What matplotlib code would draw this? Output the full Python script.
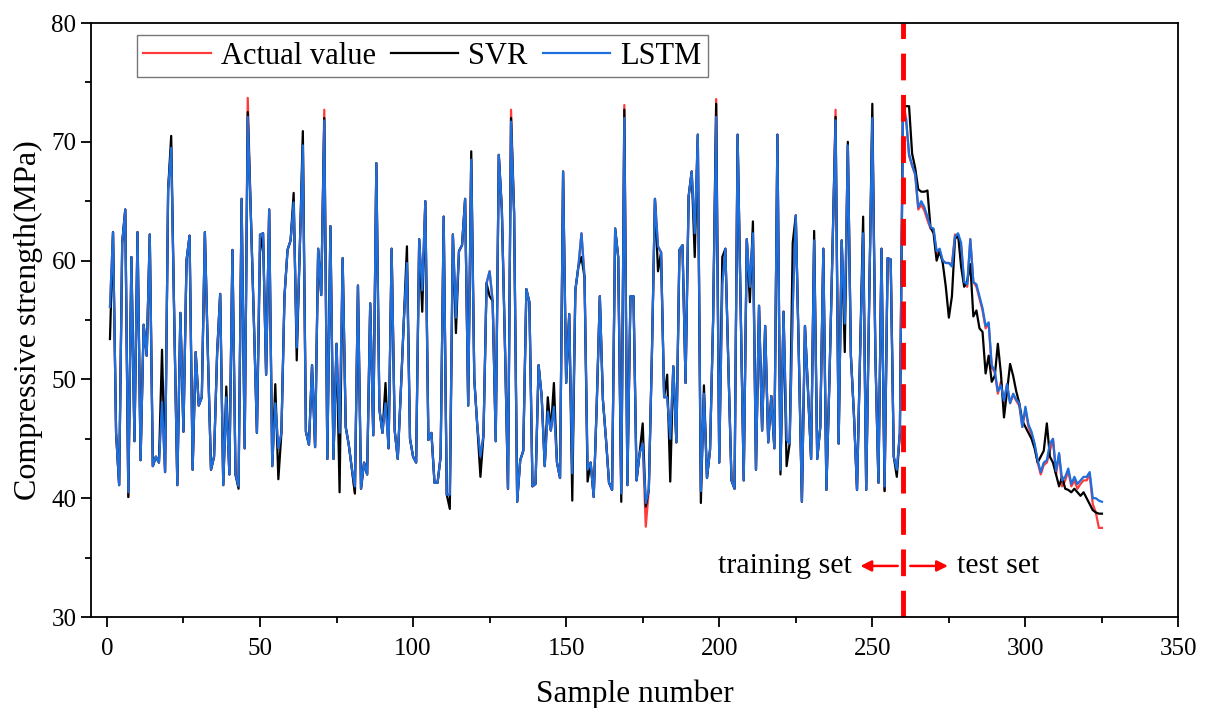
import matplotlib
matplotlib.use("Agg")
import matplotlib.pyplot as plt
import numpy as np

plt.rcParams['font.family'] = ['Liberation Serif', 'DejaVu Serif']
plt.rcParams['mathtext.fontset'] = 'stix'

# training set (samples 1-260), actual values
actual_train = [
    56.1, 62.4, 45.5, 41.1, 61.5, 64.3, 40.1, 60.3, 44.8, 62.4,
    43.2, 54.6, 52.0, 62.2, 42.7, 43.5, 43.0, 48.1, 42.2, 66.0,
    69.6, 55.0, 41.1, 55.6, 45.6, 60.0, 62.1, 42.4, 52.3, 47.8,
    48.5, 62.4, 52.0, 42.4, 43.5, 52.2, 57.2, 41.1, 48.5, 42.0,
    60.9, 42.0, 41.0, 65.2, 44.2, 73.7, 64.0, 55.0, 45.5, 62.2,
    62.3, 50.4, 64.3, 42.7, 48.0, 44.2, 45.5, 57.0, 60.9, 61.7,
    64.9, 52.7, 61.0, 69.8, 45.6, 44.5, 51.2, 44.3, 61.0, 57.1,
    72.7, 43.3, 62.9, 43.3, 53.0, 45.5, 60.2, 46.0, 44.5, 42.5,
    40.4, 57.9, 40.8, 43.0, 42.0, 56.4, 45.3, 68.2, 47.5, 45.5,
    48.0, 44.2, 61.0, 45.7, 43.3, 49.0, 55.0, 59.8, 45.0, 43.5,
    43.0, 61.8, 57.5, 65.0, 44.9, 45.5, 41.3, 41.3, 43.5, 63.7,
    40.3, 40.3, 62.2, 55.2, 60.8, 61.3, 65.2, 47.8, 68.5, 50.0,
    46.0, 43.5, 45.3, 58.1, 59.1, 56.6, 44.8, 68.9, 64.3, 53.0,
    40.8, 72.7, 64.0, 39.7, 43.2, 44.0, 57.6, 56.5, 41.0, 41.2,
    51.2, 48.6, 42.7, 47.3, 45.7, 47.7, 43.0, 41.7, 67.5, 49.7,
    55.5, 42.1, 57.5, 59.5, 62.3, 58.6, 42.4, 43.0, 40.1, 48.0,
    57.0, 48.3, 45.0, 41.3, 40.7, 62.7, 60.3, 40.4, 73.1, 41.1,
    57.0, 57.0, 41.5, 43.8, 44.6, 37.6, 40.7, 52.0, 65.2, 61.2,
    60.7, 48.5, 48.5, 45.0, 51.1, 44.7, 60.9, 61.3, 49.7, 65.4,
    67.5, 62.3, 70.6, 40.6, 48.8, 41.7, 44.1, 55.0, 73.6, 43.0,
    58.0, 61.0, 51.0, 41.5, 40.8, 70.6, 56.0, 41.5, 61.8, 57.8,
    62.3, 42.4, 56.2, 45.7, 54.5, 44.7, 48.6, 44.2, 70.6, 42.4,
    55.7, 44.9, 44.6, 56.0, 63.8, 52.0, 39.7, 54.5, 49.0, 43.3,
    61.7, 43.3, 46.0, 61.0, 40.7, 50.0, 61.0, 72.7, 44.6, 61.7,
    54.7, 69.7, 52.0, 47.0, 40.7, 52.0, 62.3, 40.7, 57.0, 72.0,
    52.0, 41.3, 61.0, 40.6, 60.2, 60.1, 43.5, 42.4, 45.5, 73.5,
]

# training samples where the model curves leave the actual curve
svr_train_diff = {
    1: 53.4, 18: 52.5, 21: 70.5, 39: 49.4, 43: 40.8, 46: 72.5, 50: 60.7,
    55: 49.6, 56: 41.6, 61: 65.7, 62: 51.6, 64: 70.9, 71: 72.0, 76: 40.5,
    91: 49.7, 98: 61.2, 103: 55.7, 112: 39.1, 114: 53.9, 119: 69.2,
    122: 41.8, 125: 57.0, 132: 72.0, 144: 48.5, 146: 49.7, 152: 39.8,
    155: 60.3, 157: 41.4, 168: 39.7, 169: 72.7, 175: 46.3, 176: 39.3,
    180: 59.1, 183: 50.4, 184: 41.4, 192: 60.3, 194: 39.6, 195: 49.5,
    199: 73.2, 201: 60.3, 210: 56.5, 211: 63.3, 220: 42.0, 222: 42.7,
    224: 61.5, 231: 62.5, 238: 72.1, 241: 52.3, 242: 70.0, 247: 63.7,
    250: 73.2, 258: 41.8, 260: 72.8,
}
lstm_train_diff = {
    7: 40.5, 21: 69.5, 46: 72.1, 64: 69.7, 71: 71.8, 81: 41.0, 132: 71.7,
    169: 72.0, 176: 39.6, 199: 72.1, 238: 71.8, 254: 41.0, 260: 72.0,
}

# test set (samples 261-325)
actual_test = [
    72.0, 68.8, 68.0, 67.2, 64.3, 64.7, 64.2, 63.4, 62.7, 62.6,
    60.5, 60.8, 60.0, 59.8, 59.8, 59.7, 62.2, 62.0, 61.2, 58.0,
    57.8, 61.8, 58.2, 57.8, 56.8, 55.8, 54.3, 54.7, 51.0, 50.6,
    48.8, 49.8, 48.0, 49.6, 48.0, 48.7, 48.2, 47.8, 46.0, 47.5,
    46.0, 45.4, 44.5, 43.0, 42.0, 42.8, 43.0, 44.0, 45.0, 42.0,
    43.7, 41.0, 41.5, 42.3, 41.0, 41.5, 40.8, 41.2, 41.5, 41.5,
    42.0, 39.5, 38.8, 37.5, 37.5,
]
svr_test = [
    73.0, 73.0, 69.0, 67.8, 66.0, 65.8, 65.8, 65.9, 62.8, 62.3,
    60.0, 60.8, 59.8, 57.8, 55.2, 57.0, 61.8, 62.2, 59.5, 57.8,
    58.3, 59.7, 55.3, 55.8, 54.3, 54.0, 50.5, 52.0, 49.8, 50.3,
    53.0, 50.5, 46.8, 49.0, 51.3, 50.3, 49.0, 48.0, 46.5, 46.0,
    45.5, 45.0, 44.2, 43.0, 43.5, 44.0, 46.3, 43.5, 43.0, 42.0,
    41.0, 41.8, 40.8, 40.7, 40.5, 40.8, 40.5, 40.2, 40.5, 40.0,
    39.5, 39.0, 38.8, 38.7, 38.7,
]
lstm_test = [
    72.0, 69.0, 68.0, 67.3, 64.5, 65.0, 64.5, 63.7, 62.8, 62.7,
    60.8, 61.0, 60.0, 59.8, 59.8, 59.5, 62.0, 62.3, 61.5, 58.2,
    58.0, 61.8, 58.2, 58.0, 57.0, 56.0, 54.5, 54.8, 51.2, 50.7,
    49.0, 49.5, 48.2, 49.6, 48.0, 48.8, 48.3, 48.0, 46.0, 47.7,
    46.2, 45.6, 44.6, 43.2, 42.2, 43.0, 43.2, 44.6, 45.0, 42.3,
    43.8, 41.5, 41.8, 42.5, 41.2, 41.8, 41.2, 41.5, 41.8, 41.8,
    42.2, 40.0, 40.0, 39.8, 39.7,
]

split_at = 260

svr_train = list(actual_train)
for k, v in svr_train_diff.items():
    svr_train[k - 1] = v
lstm_train = list(actual_train)
for k, v in lstm_train_diff.items():
    lstm_train[k - 1] = v

actual = np.array(actual_train + actual_test)
svr = np.array(svr_train + svr_test)
lstm = np.array(lstm_train + lstm_test)
samples = np.arange(1, len(actual) + 1)

fig = plt.figure(figsize=(12.05, 7.08), dpi=100)
ax = fig.add_axes([0.0755, 0.1285, 0.9025, 0.839])

ax.plot(samples, actual, color='#ff3b3b', lw=1.6, label='Actual value')
ax.plot(samples, svr, color='black', lw=1.6, label='SVR')
ax.plot(samples, lstm, color='#1c6fdc', lw=1.6, label='LSTM')

ax.axvline(split_at, color='red', lw=3.5, ls=(0, (5.5, 3)))

ax.annotate('', xy=(245.2, 34.3), xytext=(259.2, 34.3),
            arrowprops=dict(arrowstyle='-|>', color='red', lw=1.8, mutation_scale=16))
ax.annotate('', xy=(275.6, 34.3), xytext=(261.5, 34.3),
            arrowprops=dict(arrowstyle='-|>', color='red', lw=1.8, mutation_scale=16))
ax.text(243.3, 34.3, 'training set', fontsize=21.5, ha='right', va='center')
ax.text(277.8, 34.3, 'test set', fontsize=21.5, ha='left', va='center')

ax.set_xlim(-5.2, 350)
ax.set_ylim(30, 80)
ax.set_xticks(np.arange(0, 351, 50))
ax.set_xticks(np.arange(25, 351, 50), minor=True)
ax.set_yticks(np.arange(30, 81, 10))
ax.set_yticks(np.arange(35, 81, 10), minor=True)
ax.tick_params(which='major', direction='out', length=7, width=1.3, labelsize=18)
ax.tick_params(which='minor', direction='out', length=4, width=1.3)
ax.tick_params(axis='x', pad=8)
for s in ax.spines.values():
    s.set_linewidth(1.3)

ax.set_xlabel('Sample number', fontsize=22.5, labelpad=14)
ax.set_ylabel('Compressive strength(MPa)', fontsize=23, labelpad=6)

leg = ax.legend(loc='upper left', bbox_to_anchor=(0.042, 0.98), ncol=3,
                fontsize=22, frameon=True, fancybox=False, borderaxespad=0,
                handlelength=2.2, columnspacing=0.5, handletextpad=0.33,
                borderpad=0.22)
leg.get_frame().set_edgecolor('#555555')
leg.get_frame().set_linewidth(1.0)

fig.savefig('out.png', dpi=100)
